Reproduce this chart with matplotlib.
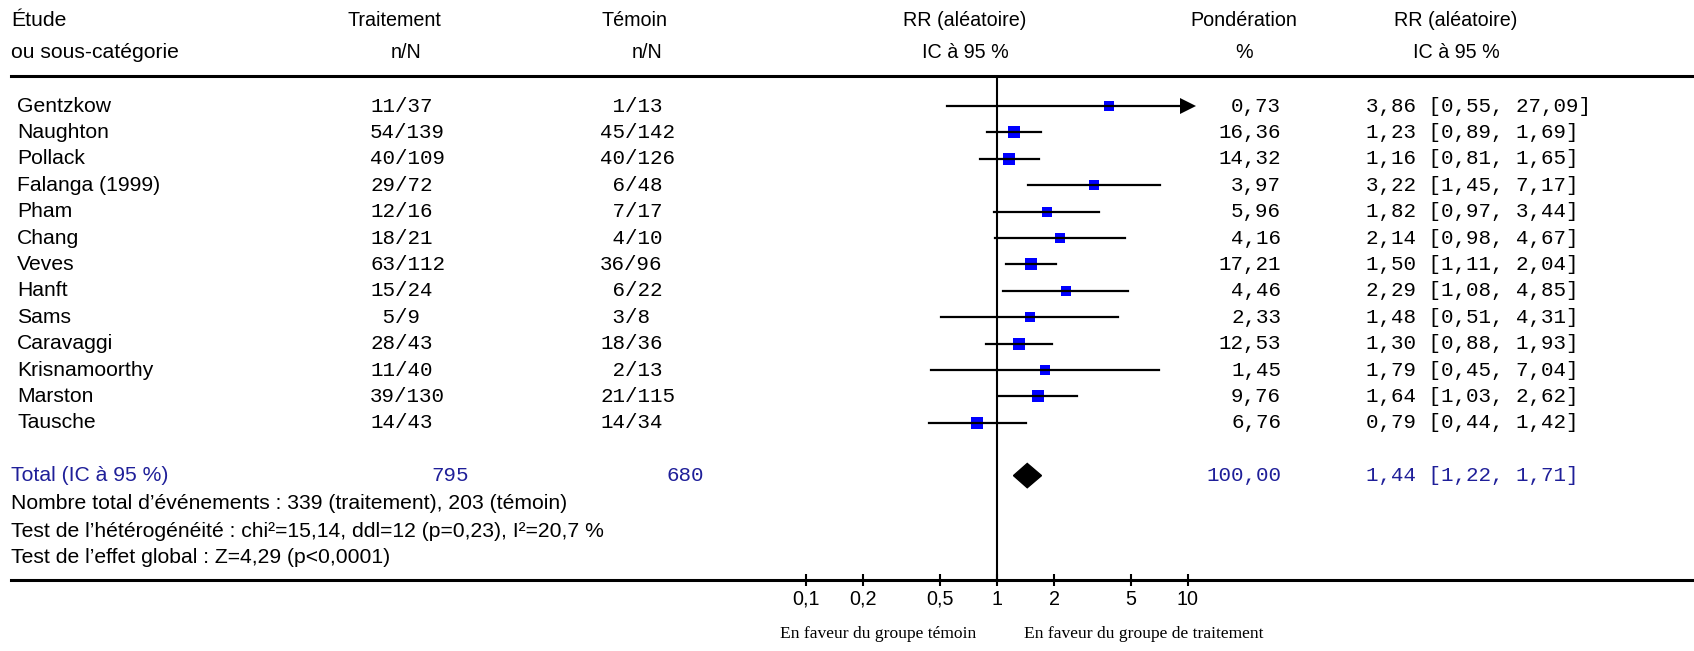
import matplotlib
matplotlib.use("Agg")
import matplotlib.pyplot as plt
import numpy as np
from matplotlib.transforms import blended_transform_factory

# --- data ---
studies = ["Gentzkow", "Naughton", "Pollack", "Falanga (1999)", "Pham", "Chang",
           "Veves", "Hanft", "Sams", "Caravaggi", "Krisnamoorthy", "Marston", "Tausche"]
trt_n = [11, 54, 40, 29, 12, 18, 63, 15, 5, 28, 11, 39, 14]
trt_N = [37, 139, 109, 72, 16, 21, 112, 24, 9, 43, 40, 130, 43]
ctl_n = [1, 45, 40, 6, 7, 4, 36, 6, 3, 18, 2, 21, 14]
ctl_N = [13, 142, 126, 48, 17, 10, 96, 22, 8, 36, 13, 115, 34]
weights = [0.73, 16.36, 14.32, 3.97, 5.96, 4.16, 17.21, 4.46, 2.33, 12.53, 1.45, 9.76, 6.76]
rr = [3.86, 1.23, 1.16, 3.22, 1.82, 2.14, 1.50, 2.29, 1.48, 1.30, 1.79, 1.64, 0.79]
ci_lo = [0.55, 0.89, 0.81, 1.45, 0.97, 0.98, 1.11, 1.08, 0.51, 0.88, 0.45, 1.03, 0.44]
ci_hi = [27.09, 1.69, 1.65, 7.17, 3.44, 4.67, 2.04, 4.85, 4.31, 1.93, 7.04, 2.62, 1.42]

total_trt = 795
total_ctl = 680
total_weight = 100.00
total_rr, total_lo, total_hi = 1.44, 1.22, 1.71

footer_lines = [
    "Nombre total d\u2019événements : 339 (traitement), 203 (témoin)",
    "Test de l\u2019hétérogénéité : chi\u00b2=15,14, ddl=12 (p=0,23), I\u00b2=20,7 %",
    "Test de l\u2019effet global : Z=4,29 (p<0,0001)",
]
tick_vals = [0.1, 0.2, 0.5, 1, 2, 5, 10]
tick_labels = ["0,1", "0,2", "0,5", "1", "2", "5", "10"]
x_clip = 10


def fr(v):
    return f"{v:.2f}".replace(".", ",")


W, H = 1694, 651
SANS = "Liberation Sans"
MONO = "Liberation Mono"
SERIF = "Liberation Serif"
FS = 15.2      # body text
FH = 14.2      # column headers
FM = 15        # monospace numbers
NAVY = "#1f1f99"

fig = plt.figure(figsize=(W / 100, H / 100), dpi=100)

# axes spans the table body; top spine = header rule, bottom spine = axis rule
ax_left, ax_right, ax_top, ax_bot = 11, 1694, 76, 580
ax = fig.add_axes([ax_left / W, 1 - ax_bot / H, (ax_right - ax_left) / W, (ax_bot - ax_top) / H])
one_px, decade = 997, 191
ax.set_xscale("log")
ax.set_xlim(10 ** ((ax_left - one_px) / decade), 10 ** ((ax_right - one_px) / decade))
row0, row_h = 106, 26.4
ax.set_ylim((ax_bot - row0) / row_h, -(row0 - ax_top) / row_h)

for s in ["left", "right"]:
    ax.spines[s].set_visible(False)
ax.spines["top"].set_linewidth(2.2)
ax.spines["bottom"].set_linewidth(2.2)
ax.set_yticks([])
ax.set_xticks(tick_vals)
ax.set_xticklabels(tick_labels, fontsize=FH, family=SANS)
ax.xaxis.set_minor_locator(plt.NullLocator())
ax.tick_params(axis="x", direction="inout", length=8, width=1.5, pad=3)

ax.axvline(1, color="black", lw=1.5, zorder=1)

ys = np.arange(len(studies))
for i in range(len(studies)):
    y = ys[i]
    if ci_hi[i] > x_clip:
        ax.plot([ci_lo[i], x_clip], [y, y], color="black", lw=1.6, zorder=3)
        ax.plot(x_clip, y, marker=">", color="black", markersize=12, markeredgewidth=0, zorder=3)
    else:
        ax.plot([ci_lo[i], ci_hi[i]], [y, y], color="black", lw=1.6, zorder=3)
    ax.plot(rr[i], y, marker="s", color="#0000ff", markersize=6.8 + 0.45 * np.sqrt(weights[i]),
            markeredgewidth=0, zorder=2)

y_tot = 14
d_h = 0.46
ax.fill([total_lo, total_rr, total_hi, total_rr], [y_tot, y_tot - d_h, y_tot, y_tot + d_h],
        color="black", zorder=3)

# --- text columns ---
tr = blended_transform_factory(fig.transFigure, ax.transData)


def px(x):
    return x / W


for i, name in enumerate(studies):
    y = ys[i]
    ax.text(px(17), y, name, transform=tr, ha="left", va="center", fontsize=FS, family=SANS)
    ax.text(px(370), y, f"{trt_n[i]:>2}/{trt_N[i]}", transform=tr, ha="left", va="center",
            fontsize=FM, family=MONO)
    ax.text(px(600), y, f"{ctl_n[i]:>2}/{ctl_N[i]}", transform=tr, ha="left", va="center",
            fontsize=FM, family=MONO)
    ax.text(px(1281), y, fr(weights[i]), transform=tr, ha="right", va="center",
            fontsize=FM, family=MONO)
    ax.text(px(1366), y, f"{fr(rr[i])} [{fr(ci_lo[i])}, {fr(ci_hi[i])}]", transform=tr,
            ha="left", va="center", fontsize=FM, family=MONO)

ax.text(px(11), y_tot, "Total (IC à 95 %)", transform=tr, ha="left", va="center",
        fontsize=FS, family=SANS, color=NAVY)
ax.text(px(431), y_tot, str(total_trt), transform=tr, ha="left", va="center",
        fontsize=FM, family=MONO, color=NAVY)
ax.text(px(666), y_tot, str(total_ctl), transform=tr, ha="left", va="center",
        fontsize=FM, family=MONO, color=NAVY)
ax.text(px(1281), y_tot, fr(total_weight), transform=tr, ha="right", va="center",
        fontsize=FM, family=MONO, color=NAVY)
ax.text(px(1366), y_tot, f"{fr(total_rr)} [{fr(total_lo)}, {fr(total_hi)}]", transform=tr,
        ha="left", va="center", fontsize=FM, family=MONO, color=NAVY)

for k, line in enumerate(footer_lines):
    ax.text(px(11), [15.05, 16.1, 17.12][k], line, transform=tr, ha="left", va="center",
            fontsize=FS, family=SANS)

# --- header ---
def htext(x, y, s, ha="center", size=FH):
    fig.text(px(x), 1 - y / H, s, ha=ha, va="center", fontsize=size, family=SANS)


htext(11, 21, "Étude", "left", FS)
htext(11, 52, "ou sous-catégorie", "left", FS)
htext(394, 21, "Traitement")
htext(421, 52, "n/N", "right")
htext(634, 21, "Témoin")
htext(662, 52, "n/N", "right")
htext(965, 21, "RR (aléatoire)")
htext(965, 52, "IC à 95 %")
htext(1244, 21, "Pondération")
htext(1244, 52, "%")
htext(1456, 21, "RR (aléatoire)")
htext(1456, 52, "IC à 95 %")

# --- favours labels ---
fig.text(px(976), 1 - 634 / H, "En faveur du groupe témoin", ha="right", va="center",
         fontsize=12.6, family=SERIF)
fig.text(px(1024), 1 - 634 / H, "En faveur du groupe de traitement", ha="left", va="center",
         fontsize=12.6, family=SERIF)

fig.savefig("out.png", dpi=100)
